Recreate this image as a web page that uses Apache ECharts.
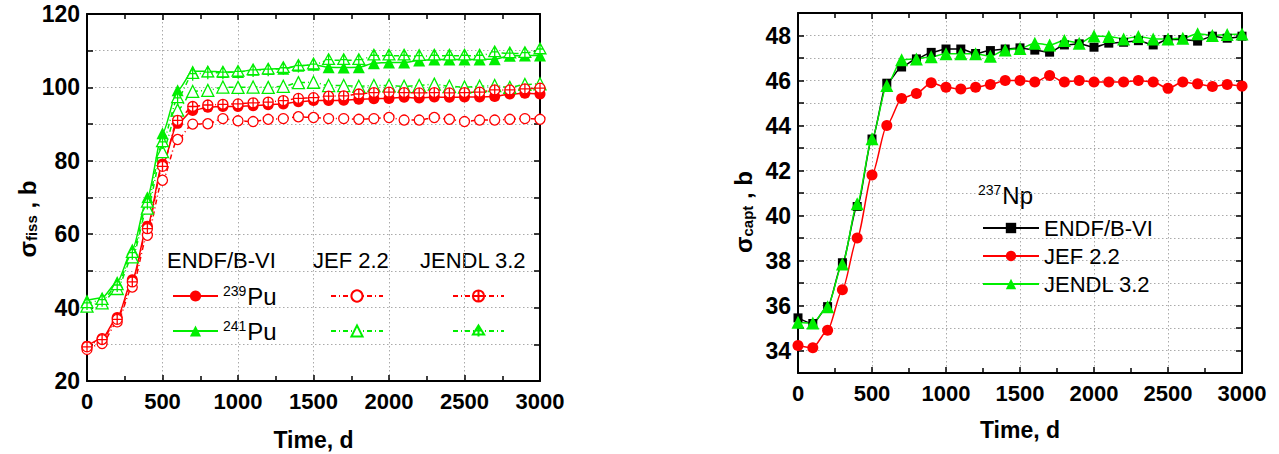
<!DOCTYPE html>
<html>
<head>
<meta charset="utf-8">
<script src="https://cdn.jsdelivr.net/npm/echarts@6/dist/echarts.min.js"></script>
<style>
  html, body { margin: 0; padding: 0; background: #fff; }
  #chart { width: 1279px; height: 454px; }
</style>
</head>
<body>
<div id="chart"></div>
<script>
// burnup time, days
const days = [0, 100, 200, 300, 400, 500, 600, 700, 800, 900, 1000, 1100, 1200, 1300, 1400, 1500,
  1600, 1700, 1800, 1900, 2000, 2100, 2200, 2300, 2400, 2500, 2600, 2700, 2800, 2900, 3000]

// left panel: fission cross-sections, b
const pu239Endf = [29.5, 31.6, 37.3, 47.6, 62.2, 79.1, 90.2, 93.7, 94.6, 94.8, 94.8, 95.0, 95.3, 95.5, 96.1, 96.4,
  96.4, 96.5, 96.8, 96.9, 97.0, 97.3, 97.1, 97.4, 97.3, 97.4, 97.4, 97.5, 98.2, 98.4, 98.2]
const pu239Jef = [28.6, 30.2, 36.1, 45.6, 59.7, 74.7, 85.8, 90.0, 90.1, 91.5, 90.9, 90.7, 91.3, 91.5, 92.0, 91.8,
  91.5, 91.5, 91.3, 91.5, 91.8, 91.1, 91.1, 91.8, 91.3, 90.7, 91.1, 91.1, 91.3, 91.5, 91.3]
const pu239Jendl = [29.3, 31.3, 36.8, 47.0, 61.5, 78.5, 91.0, 94.8, 95.2, 95.4, 95.5, 95.8, 96.0, 96.4, 97.0, 97.2,
  97.6, 97.7, 98.2, 98.6, 98.7, 98.6, 98.5, 98.6, 98.5, 98.6, 98.7, 99.3, 99.3, 99.6, 99.8]
const pu241Endf = [42.0, 42.7, 47.0, 55.8, 70.1, 87.5, 99.2, 104.4, 104.4, 104.2, 104.2, 104.8, 105.0, 105.1, 105.9, 106.2,
  105.5, 105.4, 105.5, 106.6, 106.8, 106.8, 107.3, 107.6, 107.6, 107.6, 107.6, 107.7, 108.6, 108.7, 108.7]
const pu241Jef = [40.4, 41.3, 45.2, 53.8, 67.1, 82.5, 93.8, 98.9, 99.2, 100.1, 100.0, 100.1, 100.0, 100.3, 101.3, 101.4,
  100.5, 100.5, 100.3, 100.5, 100.5, 100.3, 100.5, 100.9, 100.3, 100.1, 100.3, 100.5, 100.0, 100.8, 101.0]
const pu241Jendl = [41.1, 42.0, 46.0, 54.8, 68.5, 85.0, 97.0, 103.6, 104.0, 104.0, 104.2, 104.6, 104.8, 105.2, 105.8, 106.2,
  107.4, 107.4, 107.4, 108.6, 108.6, 108.6, 108.5, 108.6, 108.6, 108.6, 108.6, 109.5, 109.2, 109.3, 110.3]

// right panel: 237Np capture cross-section, b
const np237Endf = [35.45, 35.2, 35.95, 37.9, 40.4, 43.4, 45.88, 46.6, 46.96, 47.25, 47.4, 47.4, 47.2, 47.33, 47.4, 47.45,
  47.35, 47.26, 47.58, 47.63, 47.48, 47.66, 47.7, 47.77, 47.58, 47.82, 47.82, 47.75, 47.97, 47.88, 47.97]
const np237Jef = [34.22, 34.12, 34.9, 36.7, 39.0, 41.8, 44.0, 45.2, 45.42, 45.9, 45.7, 45.62, 45.7, 45.82, 46.0, 46.0,
  45.93, 46.22, 45.93, 46.0, 45.93, 45.93, 45.93, 46.0, 45.93, 45.65, 45.93, 45.85, 45.73, 45.82, 45.75]
const np237Jendl = [35.26, 35.22, 35.95, 37.85, 40.52, 43.41, 45.78, 46.92, 46.96, 47.06, 47.19, 47.19, 47.19, 47.08, 47.36, 47.42,
  47.66, 47.58, 47.78, 47.66, 47.98, 47.96, 47.85, 47.96, 47.85, 47.85, 47.88, 48.08, 48.0, 48.05, 48.07]

const fissLabels = [20, 40, 60, 80, 100, 120]
const captLabels = [34, 36, 38, 40, 42, 44, 46, 48]

const RED = '#ff0000'
const GREEN = '#00ee00'
const BOLD_FONT = '"Liberation Sans Narrow", "Liberation Sans", Arial, sans-serif'
const FONT = '"Liberation Sans", Arial, sans-serif'

// circle and triangle with a cross (JENDL markers)
const crossCircle = 'path://M0,10A10,10,0,1,1,20,10A10,10,0,1,1,0,10ZM10,0L10,20M0,10L20,10'
const crossTriangle = 'path://M10,0L20,18L0,18ZM10,0L10,22M4,10L16,10'

const pairs = (vals) => vals.map((v, i) => [days[i], v])

const dashDot = [5, 3, 1, 3]

function lineSeries(name, vals, grid, color, symbol, size, filled, dash) {
  return {
    name: name,
    type: 'line',
    xAxisIndex: grid * 2,
    yAxisIndex: grid * 2,
    data: pairs(vals),
    symbol: symbol,
    symbolSize: size,
    symbolKeepAspect: true,
    smooth: 0.25,
    smoothMonotone: 'x',
    lineStyle: { color: color, width: 1.5, type: dash || 'solid' },
    itemStyle: { color: filled ? color : '#fff', borderColor: color, borderWidth: filled ? 0 : 1.3 },
    emphasis: { disabled: true },
    animation: false
  }
}

function xAxis(grid, top) {
  return {
    type: 'value',
    gridIndex: grid,
    position: top ? 'top' : 'bottom',
    min: 0,
    max: 3000,
    interval: 500,
    name: top ? '' : 'Time, d',
    nameLocation: 'middle',
    nameGap: grid === 0 ? 47 : 45,
    nameTextStyle: { fontFamily: BOLD_FONT, fontWeight: 'bold', fontSize: 23, color: '#000' },
    axisLine: { show: true, onZero: false, lineStyle: { color: '#000', width: 2 } },
    axisTick: { show: true, inside: true, length: 6, lineStyle: { color: '#000', width: 1.5 } },
    minorTick: { show: true, splitNumber: 2, length: 5, lineStyle: { color: '#000', width: 1.5 } },
    axisLabel: {
      show: !top, margin: 9, color: '#000', fontFamily: BOLD_FONT, fontWeight: 'bold', fontSize: 22,
      formatter: (v) => String(v)
    },
    splitLine: { show: !top, lineStyle: { color: '#aaa', width: 1, type: [1.5, 2.5] } }
  }
}

function yAxis(grid, right, min, max, interval, labels) {
  return {
    type: 'value',
    gridIndex: grid,
    position: right ? 'right' : 'left',
    min: min,
    max: max,
    interval: interval,
    axisLine: { show: true, onZero: false, lineStyle: { color: '#000', width: 2 } },
    axisTick: { show: true, inside: true, length: 6, lineStyle: { color: '#000', width: 1.5 } },
    axisLabel: {
      show: !right, margin: 7, color: '#000', fontFamily: BOLD_FONT, fontWeight: 'bold', fontSize: 23,
      formatter: (v) => labels.includes(v) ? String(v) : ''
    },
    splitLine: { show: !right, lineStyle: { color: '#aaa', width: 1, type: [1.5, 2.5] } }
  }
}

const supRich = {
  sup: { fontFamily: FONT, fontSize: 14, color: '#000', verticalAlign: 'top', padding: [0, 1, 0, 0] },
  big: { fontFamily: FONT, fontSize: 24, color: '#000', verticalAlign: 'bottom' }
}
const hiddenRich = {
  sup: { fontSize: 14, color: 'rgba(0,0,0,0)', verticalAlign: 'top' },
  big: { fontSize: 24, color: 'rgba(0,0,0,0)' }
}
const puLabel = (name) => '{sup|' + name.slice(-5, -2) + '}{big|Pu}'

const chart = echarts.init(document.getElementById('chart'), null, { renderer: 'svg' })

chart.setOption({
  backgroundColor: '#fff',
  animation: false,
  grid: [
    { left: 87, right: 739, top: 14, bottom: 73, containLabel: false, outerBoundsMode: 'none' },
    { left: 798, right: 37, top: 13, bottom: 81, containLabel: false, outerBoundsMode: 'none' }
  ],
  xAxis: [xAxis(0, false), xAxis(0, true), xAxis(1, false), xAxis(1, true)],
  yAxis: [
    yAxis(0, false, 20, 120, 10, fissLabels),
    yAxis(0, true, 20, 120, 10, fissLabels),
    yAxis(1, false, 33, 49, 1, captLabels),
    yAxis(1, true, 33, 49, 1, captLabels)
  ],
  legend: [
    {
      data: ['ENDF/B-VI 239Pu', 'ENDF/B-VI 241Pu'],
      orient: 'vertical', left: 167, top: 279, itemWidth: 45, itemHeight: 14, itemGap: 11,
      selectedMode: false,
      formatter: puLabel,
      textStyle: { color: '#000', fontFamily: FONT, fontSize: 22, rich: supRich }
    },
    {
      data: ['JEF 2.2 239Pu', 'JEF 2.2 241Pu'],
      orient: 'vertical', left: 325, top: 279, itemWidth: 52, itemHeight: 14, itemGap: 11,
      selectedMode: false,
      formatter: puLabel,
      textStyle: { color: 'rgba(0,0,0,0)', fontSize: 22, rich: hiddenRich }
    },
    {
      data: ['JENDL 3.2 239Pu', 'JENDL 3.2 241Pu'],
      orient: 'vertical', left: 447, top: 279, itemWidth: 51, itemHeight: 14, itemGap: 11,
      selectedMode: false,
      formatter: puLabel,
      textStyle: { color: 'rgba(0,0,0,0)', fontSize: 22, rich: hiddenRich }
    },
    {
      data: ['ENDF/B-VI', 'JEF 2.2', 'JENDL 3.2'],
      orient: 'vertical', left: 977, top: 212, itemWidth: 56, itemHeight: 13, itemGap: 6,
      selectedMode: false,
      textStyle: { color: '#000', fontFamily: FONT, fontSize: 22 }
    }
  ],
  graphic: [
    { type: 'text', left: 167, top: 249, style: { text: 'ENDF/B-VI', font: '22px ' + FONT, fill: '#000' } },
    { type: 'text', left: 313, top: 249, style: { text: 'JEF 2.2', font: '22px ' + FONT, fill: '#000' } },
    { type: 'text', left: 420, top: 249, style: { text: 'JENDL 3.2', font: '22px ' + FONT, fill: '#000' } },
    {
      type: 'text', left: 978, top: 183,
      style: { text: '{sup|237}{big|Np}', fill: '#000', font: '22px ' + FONT, rich: supRich }
    },
    {
      type: 'text', x: 27, y: 219, rotation: Math.PI / 2,
      style: {
        text: '{s|σ}{sub|fiss}{s| , b}', fill: '#000', align: 'center', verticalAlign: 'middle',
        textAlign: 'center', textVerticalAlign: 'middle',
        rich: {
          s: { fontFamily: BOLD_FONT, fontWeight: 'bold', fontSize: 24, fill: '#000' },
          sub: { fontFamily: BOLD_FONT, fontWeight: 'bold', fontSize: 15, fill: '#000', verticalAlign: 'bottom' }
        }
      }
    },
    {
      type: 'text', x: 743, y: 212, rotation: Math.PI / 2,
      style: {
        text: '{s|σ}{sub|capt}{s| , b}', fill: '#000', align: 'center', verticalAlign: 'middle',
        textAlign: 'center', textVerticalAlign: 'middle',
        rich: {
          s: { fontFamily: BOLD_FONT, fontWeight: 'bold', fontSize: 24, fill: '#000' },
          sub: { fontFamily: BOLD_FONT, fontWeight: 'bold', fontSize: 15, fill: '#000', verticalAlign: 'bottom' }
        }
      }
    }
  ],
  series: [
    lineSeries('ENDF/B-VI 239Pu', pu239Endf, 0, RED, 'circle', 11, true),
    lineSeries('ENDF/B-VI 241Pu', pu241Endf, 0, GREEN, 'triangle', 12, true),
    lineSeries('JEF 2.2 239Pu', pu239Jef, 0, RED, 'circle', 10, false, dashDot),
    lineSeries('JEF 2.2 241Pu', pu241Jef, 0, GREEN, 'triangle', 12, false, dashDot),
    lineSeries('JENDL 3.2 239Pu', pu239Jendl, 0, RED, crossCircle, 10, false, dashDot),
    lineSeries('JENDL 3.2 241Pu', pu241Jendl, 0, GREEN, crossTriangle, 13, false, dashDot),
    lineSeries('ENDF/B-VI', np237Endf, 1, '#000', 'rect', 9, true),
    lineSeries('JEF 2.2', np237Jef, 1, RED, 'circle', 11, true),
    lineSeries('JENDL 3.2', np237Jendl, 1, GREEN, 'triangle', 13, true)
  ]
})
</script>
</body>
</html>
